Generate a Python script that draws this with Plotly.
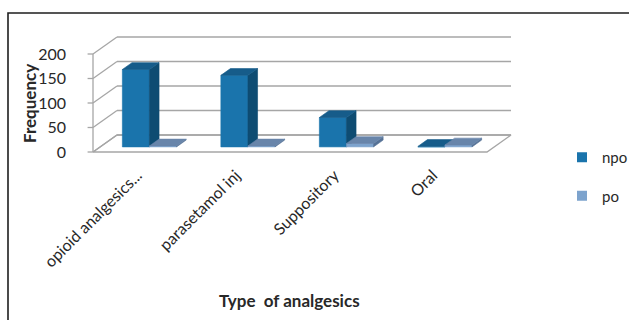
import plotly.graph_objects as go

# ---- data -------------------------------------------------------------
categories = ["opioid analgesics...", "parasetamol inj", "Suppository", "Oral"]
npo = [158, 146, 60, 1]
po = [2, 2, 7, 4]
y_ticks = [0, 50, 100, 150, 200]

# ---- figure geometry (pixels) -----------------------------------------
W, H = 629, 320
PLOT_L, PLOT_R, PLOT_T, PLOT_B = 83, 515, 30, 155
ORIGIN_X, ORIGIN_Y = 93, 152          # front-left corner of the floor
SLOT_PX = 98.5                        # width of one category slot
VAL_PX = 0.49                         # pixels per frequency unit

# oblique projection: full floor depth expressed in data units
DX = 24 / SLOT_PX
DY = 17 / VAL_PX
Z0, Z1 = 0.3, 0.7                     # depth span occupied by the columns
BW = 0.275                            # column width in slot units
VMAX = 200

x_min = (PLOT_L - ORIGIN_X) / SLOT_PX
x_max = (PLOT_R - ORIGIN_X) / SLOT_PX
y_max = (ORIGIN_Y - PLOT_T) / VAL_PX
y_min = -(PLOT_B - ORIGIN_Y) / VAL_PX

GRID = "rgb(166,166,166)"
NPO = dict(front="rgb(26,116,172)", side="rgb(14,76,114)", top="rgb(22,92,138)")
PO = dict(front="rgb(125,163,205)", side="rgb(86,114,150)", top="rgb(104,133,170)")


def proj(x, v, z):
    return x + z * DX, v + z * DY


def poly(points, fill, line=None, lw=0.6):
    xs, ys = zip(*[proj(*p) for p in points + [points[0]]])
    return go.Scatter(x=xs, y=ys, mode="lines", fill="toself",
                      fillcolor=fill, line=dict(color=line or fill, width=lw),
                      hoverinfo="skip", showlegend=False)


def seg(p, q, color=GRID, width=1.3):
    (x0, y0), (x1, y1) = proj(*p), proj(*q)
    return go.Scatter(x=[x0, x1], y=[y0, y1], mode="lines",
                      line=dict(color=color, width=width),
                      hoverinfo="skip", showlegend=False)


def column(x0, x1, h, colors):
    faces = [
        ([(x0, 0, Z0), (x1, 0, Z0), (x1, h, Z0), (x0, h, Z0)], colors["front"]),
        ([(x1, 0, Z0), (x1, 0, Z1), (x1, h, Z1), (x1, h, Z0)], colors["side"]),
        ([(x0, h, Z0), (x1, h, Z0), (x1, h, Z1), (x0, h, Z1)], colors["top"]),
    ]
    return [poly(pts, c) for pts, c in faces]


n = len(categories)
traces = []

# floor
traces.append(poly([(0, 0, 0), (n, 0, 0), (n, 0, 1), (0, 0, 1)],
                   "white", GRID, 1.3))
# back-wall gridlines and side-wall gridlines
for v in y_ticks:
    traces.append(seg((0, v, 1), (n, v, 1)))
    traces.append(seg((0, v, 0), (0, v, 1)))
    traces.append(seg((-0.055, v, 0), (0, v, 0)))
# front-left edge of the side wall
traces.append(seg((0, 0, 0), (0, VMAX, 0)))

# columns, drawn left to right so each one hides the side of its neighbour
for i in range(n):
    c = i + 0.5
    traces += column(c - BW, c, npo[i], NPO)
    traces += column(c, c + BW, po[i], PO)

# legend entries
traces.append(go.Scatter(x=[None], y=[None], mode="markers", name="npo",
                         legendgroup="npo",
                         marker=dict(symbol="square", size=10, color=NPO["front"])))
traces.append(go.Scatter(x=[None], y=[None], mode="markers", name="po",
                         legendgroup="po",
                         marker=dict(symbol="square", size=10, color=PO["front"])))

fig = go.Figure(traces)


def paper_x(px):
    return (px - PLOT_L) / (PLOT_R - PLOT_L)


def paper_y(py):
    return (PLOT_B - py) / (PLOT_B - PLOT_T)


FONT = "Lato, 'Open Sans', sans-serif"

fig.update_layout(
    width=W, height=H,
    margin=dict(l=PLOT_L, r=W - PLOT_R, t=PLOT_T, b=H - PLOT_B, pad=0,
                autoexpand=False),
    paper_bgcolor="white", plot_bgcolor="rgba(0,0,0,0)",
    font=dict(family=FONT, size=16, color="rgb(40,40,40)"),
    xaxis=dict(range=[x_min, x_max], showgrid=False, zeroline=False,
               showline=False, tickmode="array",
               tickvals=[i + 0.45 for i in range(n)],
               ticktext=categories, tickangle=-45,
               tickfont=dict(size=16), ticks="", ticklabelstandoff=7,
               automargin=False),
    yaxis=dict(range=[y_min, y_max], showgrid=False, zeroline=False,
               showline=False, tickmode="array", tickvals=y_ticks,
               tickfont=dict(size=16), ticks="", ticklabelstandoff=16,
               automargin=False),
    legend=dict(x=paper_x(562), y=paper_y(141), xanchor="left", yanchor="top",
                font=dict(size=15), tracegroupgap=16, bgcolor="rgba(0,0,0,0)",
                itemwidth=30),
    showlegend=True,
    shapes=[dict(type="rect", xref="paper", yref="paper",
                 x0=paper_x(8), x1=paper_x(640), y0=paper_y(335), y1=paper_y(13),
                 line=dict(color="rgb(30,30,30)", width=1.6))],
    annotations=[
        dict(text="<b>Frequency</b>", xref="paper", yref="paper",
             x=paper_x(29), y=paper_y(104), xanchor="center", yanchor="middle",
             textangle=-90, showarrow=False, font=dict(size=17, family=FONT)),
        dict(text="<b>Type  of analgesics</b>", xref="paper", yref="paper",
             x=paper_x(289), y=paper_y(300), xanchor="center", yanchor="middle",
             showarrow=False, font=dict(size=17, family=FONT)),
    ],
)

fig.write_html("out.html")
